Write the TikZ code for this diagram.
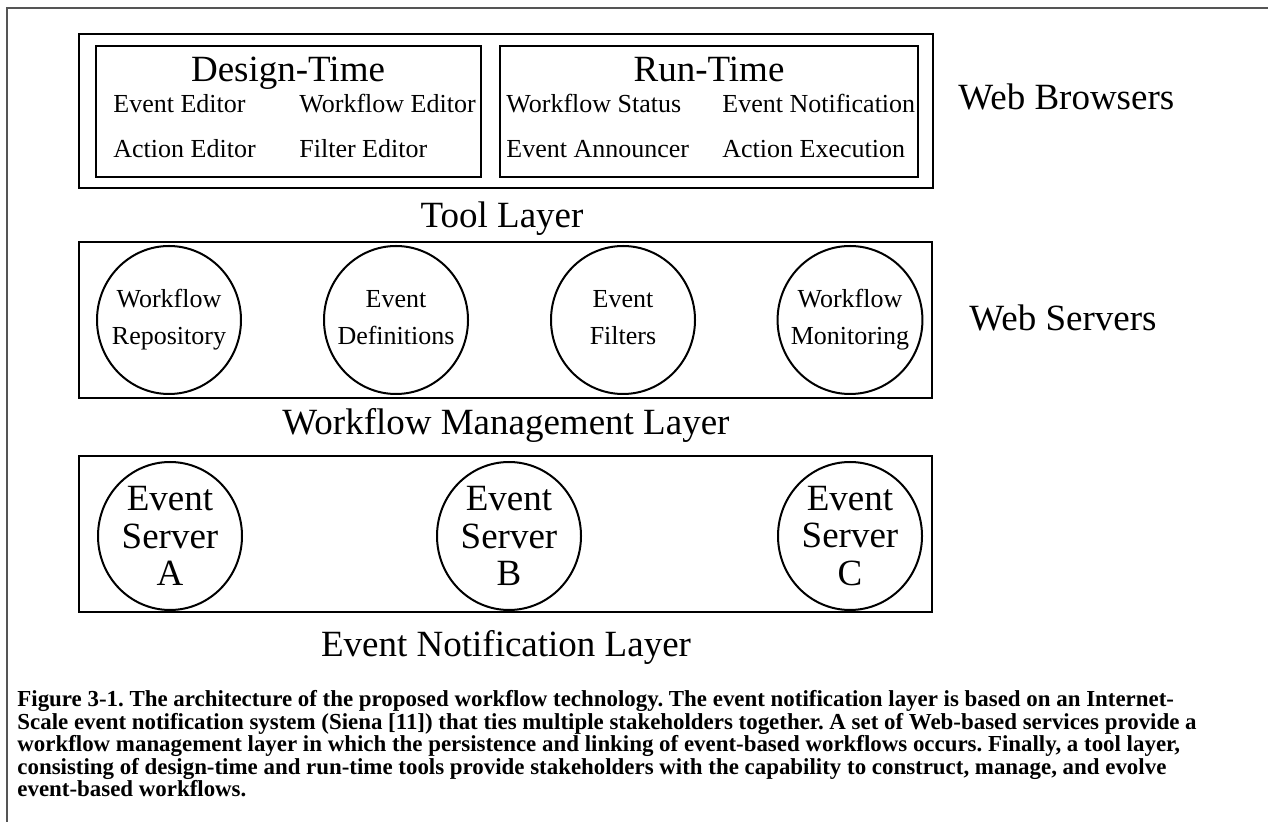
\documentclass[tikz,border=0pt]{standalone}
\usepackage{fontspec}
\setmainfont{Liberation Serif}
\usetikzlibrary{shapes.geometric}

\definecolor{framegray}{RGB}{85,85,85}

\tikzset{
  box/.style={draw, line width=1.3pt, inner sep=0pt},
  big/.style={font=\fontsize{18.5}{20}\selectfont, inner sep=0pt, anchor=base},
  item/.style={font=\fontsize{13}{15}\selectfont, inner sep=0pt, anchor=base west},
  oval/.style={ellipse, draw, line width=1pt, inner sep=-4pt,
    minimum width=72pt, minimum height=74pt, align=center},
  service/.style={oval, font=\fontsize{13}{18.5}\selectfont, text depth=2.8pt},
  server/.style={oval, font=\fontsize{18.5}{18.8}\selectfont},
  caption/.style={font=\bfseries\fontsize{11.45}{11.3}\selectfont\frenchspacing,
    inner sep=0pt, align=left, anchor=north west}
}

\begin{document}
\begin{tikzpicture}[x=0.5pt, y=-0.5pt]
  \useasboundingbox (0,0) rectangle (1268,822);
  % frame round the figure
  \draw[framegray, line width=0.9pt] (7,822) -- (7,8) -- (1268,8);

  % tool layer
  \node[box, minimum width=427pt, minimum height=77pt] (tool) at (506,111) {};
  \node[box, minimum width=192.5pt, minimum height=65.5pt] (design) at (288.5,111.5) {};
  \node[box, minimum width=209pt, minimum height=65.5pt] (run) at (709,111.5) {};
  \node[big] (designtitle) at (288,82) {Design-Time};
  \node[item] (evented) at (113,113) {Event Editor};
  \node[item] (flowed) at (299,113) {Workflow Editor};
  \node[item] (actioned) at (113,158) {Action Editor};
  \node[item] (filtered) at (299,158) {Filter Editor};
  \node[big] (runtitle) at (709,82) {Run-Time};
  \node[item] (flowstatus) at (506,113) {Workflow Status};
  \node[item] (eventnotif) at (722,113) {Event Notification};
  \node[item] (announcer) at (506,158) {Event Announcer};
  \node[item] (execution) at (722,158) {Action Execution};
  \node[big, anchor=base west] (browsers) at (958,110) {Web Browsers};
  \node[big] (toollabel) at (502,228) {Tool Layer};

  % workflow management layer
  \node[box, minimum width=426.5pt, minimum height=78pt] (mgmt) at (505.5,320) {};
  \node[service] (repo) at (169,320) {Workflow\\Repository};
  \node[service] (defs) at (396,320) {Event\\Definitions};
  \node[service] (filters) at (623,320) {Event\\Filters};
  \node[service] (monitor) at (850,320) {Workflow\\Monitoring};
  \node[big, anchor=base west] (servers) at (969,331) {Web Servers};
  \node[big] (mgmtlabel) at (506,435) {Workflow Management Layer};

  % event notification layer
  \node[box, minimum width=426.5pt, minimum height=78pt] (notif) at (505.5,534) {};
  \node[server] (srva) at (170,536) {Event\\Server\\A};
  \node[server] (srvb) at (509,536) {Event\\Server\\B};
  \node[server] (srvc) at (850,536) {Event\\Server\\C};
  \node[big] (notiflabel) at (506,656) {Event Notification Layer};

  % caption
  \node[caption] (figcaption) at (17,690) {Figure 3-1. The architecture of the proposed workflow technology. The event notification layer is based on an Internet-\\
    Scale event notification system (Siena [11]) that ties multiple stakeholders together. A set of Web-based services provide a\\
    workflow management layer in which the persistence and linking of event-based workflows occurs. Finally, a tool layer,\\
    consisting of design-time and run-time tools provide stakeholders with the capability to construct, manage, and evolve\\
    event-based workflows.};
\end{tikzpicture}
\end{document}
